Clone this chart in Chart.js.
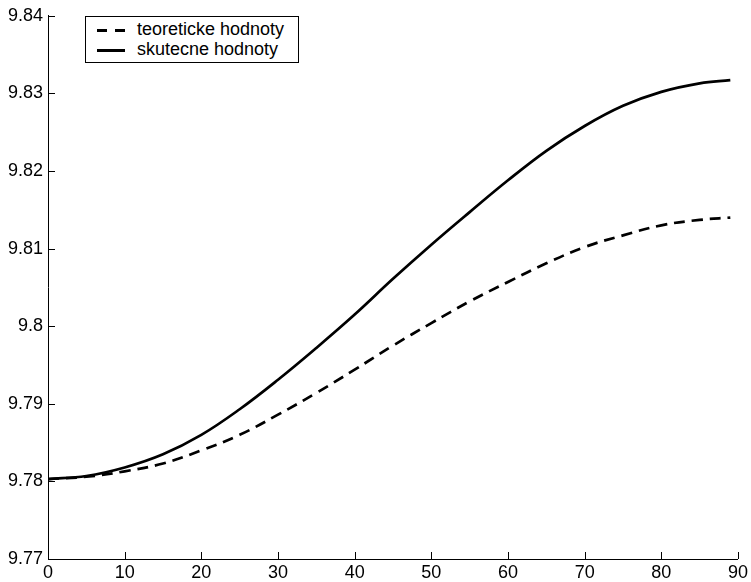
<!DOCTYPE html>
<html lang="cs">
<head>
    <meta charset="UTF-8">
    <title>teoreticke a skutecne hodnoty</title>
    <script src="https://cdn.jsdelivr.net/npm/chart.js"></script>
    <style>
        body { margin: 0; background: #fff; }
        #wrap { position: relative; width: 751px; height: 582px; }
        #legend {
            position: absolute; left: 85px; top: 16px; width: 214px; height: 47px;
            box-sizing: border-box; border: 1px solid #000; background: #fff;
            font-family: "Liberation Sans", Arial, sans-serif; font-size: 18px; line-height: 21px; color: #000;
        }
        #legend .s { position: absolute; height: 3px; background: #000; }
        #legend .t { position: absolute; left: 51px; white-space: nowrap; }
    </style>
</head>
<body>
<div id="wrap">
    <canvas id="chart" width="751" height="582"></canvas>
    <!-- legend drawn in html so it can sit inside the plot like in the original -->
    <div id="legend">
        <div class="s" style="left:11px; top:12px; width:10px"></div>
        <div class="s" style="left:29px; top:12px; width:10px"></div>
        <div class="t" style="top:2px">teoreticke hodnoty</div>
        <div class="s" style="left:11px; top:32px; width:28px"></div>
        <div class="t" style="top:22px">skutecne hodnoty</div>
    </div>
</div>

<script>
    // data
    const latitude = [0, 5, 10, 15, 20, 25, 30, 35, 40, 45, 50, 55, 60, 65, 70, 75, 80, 85, 89];
    const teoreticke = [9.7803, 9.7806, 9.7813, 9.7823, 9.7840, 9.7860, 9.7886, 9.7914, 9.7944, 9.7975,
                        9.8004, 9.8032, 9.8057, 9.8081, 9.8102, 9.8117, 9.8130, 9.8137, 9.8140];
    const skutecne = [9.7803, 9.7807, 9.7818, 9.7835, 9.7860, 9.7893, 9.7931, 9.7972, 9.8015, 9.8061,
                      9.8105, 9.8147, 9.8188, 9.8226, 9.8258, 9.8284, 9.8302, 9.8313, 9.8317];
    const xTicks = [0, 10, 20, 30, 40, 50, 60, 70, 80, 90];
    const yTicks = [9.77, 9.78, 9.79, 9.80, 9.81, 9.82, 9.83, 9.84];
    const yTickLabels = ['9.77', '9.78', '9.79', '9.8', '9.81', '9.82', '9.83', '9.84'];

    const font = { family: '"Liberation Sans", Arial, sans-serif', size: 18 };

    // matlab style ticks pointing into the plot
    const innerTicks = {
        id: 'innerTicks',
        afterDatasetsDraw(chart) {
            const { ctx, chartArea, scales } = chart;
            ctx.save();
            ctx.strokeStyle = '#000';
            ctx.lineWidth = 1;
            ctx.beginPath();
            xTicks.forEach(v => {
                const px = Math.round(scales.x.getPixelForValue(v)) + 0.5;
                ctx.moveTo(px, chartArea.bottom);
                ctx.lineTo(px, chartArea.bottom - 7);
            });
            yTicks.forEach(v => {
                const py = Math.round(scales.y.getPixelForValue(v)) + 0.5;
                ctx.moveTo(chartArea.left, py);
                ctx.lineTo(chartArea.left + 7, py);
            });
            ctx.stroke();
            ctx.restore();
        }
    };

    new Chart(document.getElementById('chart'), {
        type: 'line',
        data: {
            datasets: [
                {
                    label: 'teoreticke hodnoty',
                    data: latitude.map((x, i) => ({ x: x, y: teoreticke[i] })),
                    borderColor: '#000',
                    borderWidth: 2.7,
                    borderDash: [11, 7],
                    pointRadius: 0,
                    tension: 0.4
                },
                {
                    label: 'skutecne hodnoty',
                    data: latitude.map((x, i) => ({ x: x, y: skutecne[i] })),
                    borderColor: '#000',
                    borderWidth: 2.7,
                    pointRadius: 0,
                    tension: 0.4
                }
            ]
        },
        options: {
            responsive: false,
            animation: false,
            layout: { padding: { top: 14, right: 13, left: 0, bottom: 0 } },
            plugins: {
                legend: { display: false },
                tooltip: { enabled: false }
            },
            scales: {
                x: {
                    type: 'linear',
                    min: 0,
                    max: 90,
                    afterBuildTicks: s => { s.ticks = xTicks.map(v => ({ value: v })); },
                    afterFit: s => { s.height = 23; },
                    grid: { display: false, drawTicks: false },
                    border: { display: true, color: '#000', width: 1 },
                    ticks: { color: '#000', font: font, padding: 3, maxRotation: 0, autoSkip: false }
                },
                y: {
                    min: 9.77,
                    max: 9.84,
                    afterBuildTicks: s => { s.ticks = yTicks.map(v => ({ value: v })); },
                    afterFit: s => { s.width = 48; },
                    grid: { display: false, drawTicks: false },
                    border: { display: true, color: '#000', width: 1 },
                    ticks: {
                        color: '#000', font: font, padding: 5, autoSkip: false,
                        callback: (v, i) => yTickLabels[i]
                    }
                }
            }
        },
        plugins: [innerTicks]
    });
</script>
</body>
</html>
